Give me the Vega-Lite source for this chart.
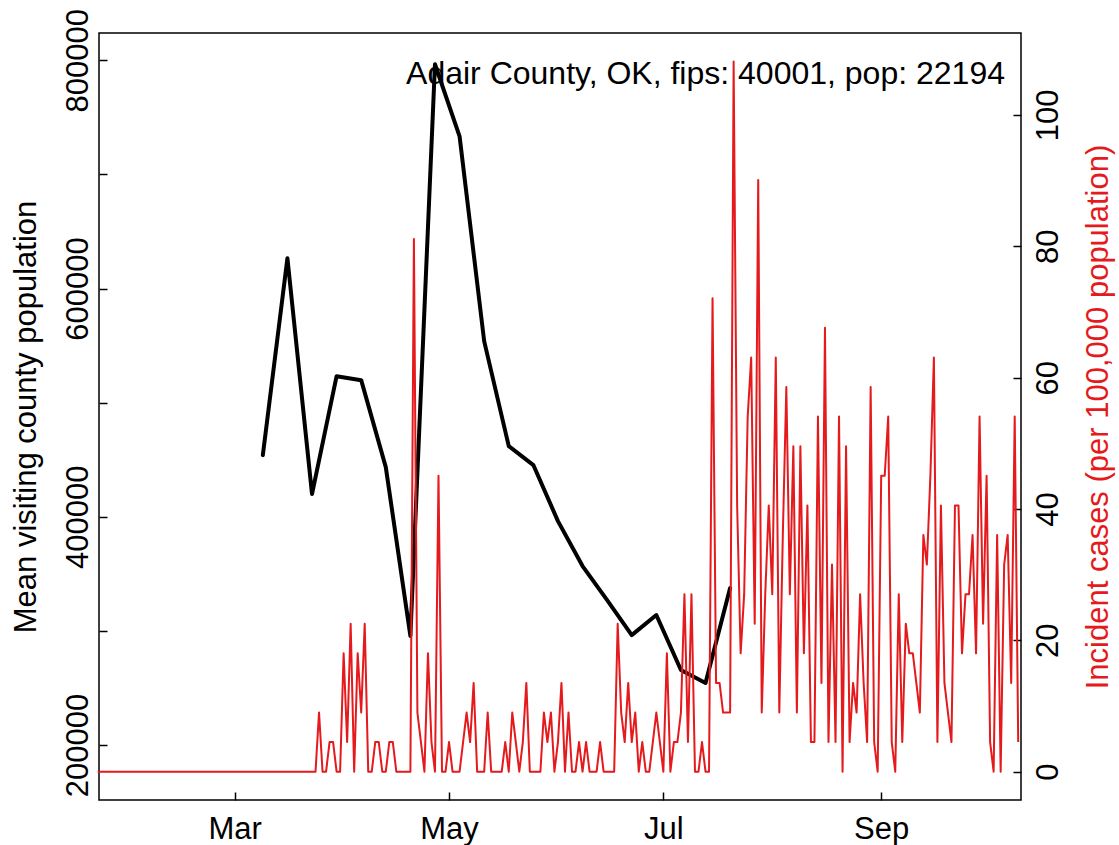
{
 "$schema": "https://vega.github.io/schema/vega-lite/v6.json",
 "width": 922, "height": 767,
 "autosize": {"type": "none"},
 "padding": {"left": 99, "top": 33, "right": 98, "bottom": 45},
 "background": "white",
 "config": {
  "view": {"stroke": "#000", "strokeWidth": 1.5},
  "font": "Liberation Sans",
  "axis": {"labelFont": "Liberation Sans", "titleFont": "Liberation Sans", "labelFontSize": 31, "titleFontSize": 31, "labelColor": "#000", "titleColor": "#000", "tickColor": "#000", "grid": false, "domain": false, "tickSize": -8, "tickWidth": 1.5, "titleFontWeight": "normal", "labelOverlap": false, "labelFlush": false}
 },
 "datasets": {
  "mobility": [
   {"date":"2020-03-09","visitors":454000},{"date":"2020-03-16","visitors":626600},{"date":"2020-03-23","visitors":419900},{"date":"2020-03-30","visitors":523200},{"date":"2020-04-06","visitors":519700},{"date":"2020-04-13","visitors":443500},{"date":"2020-04-20","visitors":295500},{"date":"2020-04-27","visitors":796500},{"date":"2020-05-04","visitors":733400},{"date":"2020-05-11","visitors":553900},{"date":"2020-05-18","visitors":461900},{"date":"2020-05-25","visitors":445300},{"date":"2020-06-01","visitors":396200},{"date":"2020-06-08","visitors":356800},{"date":"2020-06-15","visitors":327000},{"date":"2020-06-22","visitors":296300},{"date":"2020-06-29","visitors":313900},{"date":"2020-07-06","visitors":265700},{"date":"2020-07-13","visitors":254300},{"date":"2020-07-20","visitors":337500}
  ],
  "label": [
   {"date":"2020-10-06T05:30:00Z","visitors":778970,"label":"Adair County, OK, fips: 40001, pop: 22194"}
  ],
  "cases": [
   {"date":"2020-01-22","rate":0},{"date":"2020-01-23","rate":0},{"date":"2020-01-24","rate":0},{"date":"2020-01-25","rate":0},{"date":"2020-01-26","rate":0},{"date":"2020-01-27","rate":0},{"date":"2020-01-28","rate":0},{"date":"2020-01-29","rate":0},{"date":"2020-01-30","rate":0},{"date":"2020-01-31","rate":0},
   {"date":"2020-02-01","rate":0},{"date":"2020-02-02","rate":0},{"date":"2020-02-03","rate":0},{"date":"2020-02-04","rate":0},{"date":"2020-02-05","rate":0},{"date":"2020-02-06","rate":0},{"date":"2020-02-07","rate":0},{"date":"2020-02-08","rate":0},{"date":"2020-02-09","rate":0},{"date":"2020-02-10","rate":0},{"date":"2020-02-11","rate":0},{"date":"2020-02-12","rate":0},{"date":"2020-02-13","rate":0},{"date":"2020-02-14","rate":0},{"date":"2020-02-15","rate":0},{"date":"2020-02-16","rate":0},{"date":"2020-02-17","rate":0},{"date":"2020-02-18","rate":0},{"date":"2020-02-19","rate":0},{"date":"2020-02-20","rate":0},{"date":"2020-02-21","rate":0},{"date":"2020-02-22","rate":0},{"date":"2020-02-23","rate":0},{"date":"2020-02-24","rate":0},{"date":"2020-02-25","rate":0},{"date":"2020-02-26","rate":0},{"date":"2020-02-27","rate":0},{"date":"2020-02-28","rate":0},{"date":"2020-02-29","rate":0},
   {"date":"2020-03-01","rate":0},{"date":"2020-03-02","rate":0},{"date":"2020-03-03","rate":0},{"date":"2020-03-04","rate":0},{"date":"2020-03-05","rate":0},{"date":"2020-03-06","rate":0},{"date":"2020-03-07","rate":0},{"date":"2020-03-08","rate":0},{"date":"2020-03-09","rate":0},{"date":"2020-03-10","rate":0},{"date":"2020-03-11","rate":0},{"date":"2020-03-12","rate":0},{"date":"2020-03-13","rate":0},{"date":"2020-03-14","rate":0},{"date":"2020-03-15","rate":0},{"date":"2020-03-16","rate":0},{"date":"2020-03-17","rate":0},{"date":"2020-03-18","rate":0},{"date":"2020-03-19","rate":0},{"date":"2020-03-20","rate":0},{"date":"2020-03-21","rate":0},{"date":"2020-03-22","rate":0},{"date":"2020-03-23","rate":0},{"date":"2020-03-24","rate":0},{"date":"2020-03-25","rate":9.01},{"date":"2020-03-26","rate":0},{"date":"2020-03-27","rate":0},{"date":"2020-03-28","rate":4.51},{"date":"2020-03-29","rate":4.51},{"date":"2020-03-30","rate":0},{"date":"2020-03-31","rate":0},
   {"date":"2020-04-01","rate":18.02},{"date":"2020-04-02","rate":4.51},{"date":"2020-04-03","rate":22.53},{"date":"2020-04-04","rate":0},{"date":"2020-04-05","rate":18.02},{"date":"2020-04-06","rate":9.01},{"date":"2020-04-07","rate":22.53},{"date":"2020-04-08","rate":0},{"date":"2020-04-09","rate":0},{"date":"2020-04-10","rate":4.51},{"date":"2020-04-11","rate":4.51},{"date":"2020-04-12","rate":0},{"date":"2020-04-13","rate":0},{"date":"2020-04-14","rate":4.51},{"date":"2020-04-15","rate":4.51},{"date":"2020-04-16","rate":0},{"date":"2020-04-17","rate":0},{"date":"2020-04-18","rate":0},{"date":"2020-04-19","rate":0},{"date":"2020-04-20","rate":0},{"date":"2020-04-21","rate":81.1},{"date":"2020-04-22","rate":9.01},{"date":"2020-04-23","rate":4.51},{"date":"2020-04-24","rate":0},{"date":"2020-04-25","rate":18.02},{"date":"2020-04-26","rate":4.51},{"date":"2020-04-27","rate":0},{"date":"2020-04-28","rate":45.06},{"date":"2020-04-29","rate":0},{"date":"2020-04-30","rate":0},
   {"date":"2020-05-01","rate":4.51},{"date":"2020-05-02","rate":0},{"date":"2020-05-03","rate":0},{"date":"2020-05-04","rate":0},{"date":"2020-05-05","rate":4.51},{"date":"2020-05-06","rate":9.01},{"date":"2020-05-07","rate":4.51},{"date":"2020-05-08","rate":13.52},{"date":"2020-05-09","rate":0},{"date":"2020-05-10","rate":0},{"date":"2020-05-11","rate":0},{"date":"2020-05-12","rate":9.01},{"date":"2020-05-13","rate":0},{"date":"2020-05-14","rate":0},{"date":"2020-05-15","rate":0},{"date":"2020-05-16","rate":0},{"date":"2020-05-17","rate":4.51},{"date":"2020-05-18","rate":0},{"date":"2020-05-19","rate":9.01},{"date":"2020-05-20","rate":4.51},{"date":"2020-05-21","rate":0},{"date":"2020-05-22","rate":4.51},{"date":"2020-05-23","rate":13.52},{"date":"2020-05-24","rate":0},{"date":"2020-05-25","rate":0},{"date":"2020-05-26","rate":0},{"date":"2020-05-27","rate":0},{"date":"2020-05-28","rate":9.01},{"date":"2020-05-29","rate":4.51},{"date":"2020-05-30","rate":9.01},{"date":"2020-05-31","rate":0},
   {"date":"2020-06-01","rate":4.51},{"date":"2020-06-02","rate":13.52},{"date":"2020-06-03","rate":0},{"date":"2020-06-04","rate":9.01},{"date":"2020-06-05","rate":0},{"date":"2020-06-06","rate":0},{"date":"2020-06-07","rate":4.51},{"date":"2020-06-08","rate":0},{"date":"2020-06-09","rate":4.51},{"date":"2020-06-10","rate":0},{"date":"2020-06-11","rate":0},{"date":"2020-06-12","rate":0},{"date":"2020-06-13","rate":4.51},{"date":"2020-06-14","rate":0},{"date":"2020-06-15","rate":0},{"date":"2020-06-16","rate":0},{"date":"2020-06-17","rate":0},{"date":"2020-06-18","rate":22.53},{"date":"2020-06-19","rate":9.01},{"date":"2020-06-20","rate":4.51},{"date":"2020-06-21","rate":13.52},{"date":"2020-06-22","rate":4.51},{"date":"2020-06-23","rate":9.01},{"date":"2020-06-24","rate":0},{"date":"2020-06-25","rate":4.51},{"date":"2020-06-26","rate":0},{"date":"2020-06-27","rate":0},{"date":"2020-06-28","rate":4.51},{"date":"2020-06-29","rate":9.01},{"date":"2020-06-30","rate":4.51},
   {"date":"2020-07-01","rate":0},{"date":"2020-07-02","rate":18.02},{"date":"2020-07-03","rate":0},{"date":"2020-07-04","rate":4.51},{"date":"2020-07-05","rate":4.51},{"date":"2020-07-06","rate":9.01},{"date":"2020-07-07","rate":27.03},{"date":"2020-07-08","rate":4.51},{"date":"2020-07-09","rate":27.03},{"date":"2020-07-10","rate":0},{"date":"2020-07-11","rate":0},{"date":"2020-07-12","rate":4.51},{"date":"2020-07-13","rate":0},{"date":"2020-07-14","rate":0},{"date":"2020-07-15","rate":72.09},{"date":"2020-07-16","rate":13.52},{"date":"2020-07-17","rate":13.52},{"date":"2020-07-18","rate":9.01},{"date":"2020-07-19","rate":9.01},{"date":"2020-07-20","rate":9.01},{"date":"2020-07-21","rate":108.14},{"date":"2020-07-22","rate":40.55},{"date":"2020-07-23","rate":18.02},{"date":"2020-07-24","rate":27.03},{"date":"2020-07-25","rate":54.07},{"date":"2020-07-26","rate":63.08},{"date":"2020-07-27","rate":22.53},{"date":"2020-07-28","rate":90.11},{"date":"2020-07-29","rate":9.01},{"date":"2020-07-30","rate":27.03},{"date":"2020-07-31","rate":40.55},
   {"date":"2020-08-01","rate":27.03},{"date":"2020-08-02","rate":63.08},{"date":"2020-08-03","rate":9.01},{"date":"2020-08-04","rate":36.05},{"date":"2020-08-05","rate":58.57},{"date":"2020-08-06","rate":27.03},{"date":"2020-08-07","rate":49.56},{"date":"2020-08-08","rate":9.01},{"date":"2020-08-09","rate":49.56},{"date":"2020-08-10","rate":18.02},{"date":"2020-08-11","rate":40.55},{"date":"2020-08-12","rate":4.51},{"date":"2020-08-13","rate":4.51},{"date":"2020-08-14","rate":54.07},{"date":"2020-08-15","rate":13.52},{"date":"2020-08-16","rate":67.59},{"date":"2020-08-17","rate":4.51},{"date":"2020-08-18","rate":31.54},{"date":"2020-08-19","rate":4.51},{"date":"2020-08-20","rate":54.07},{"date":"2020-08-21","rate":0},{"date":"2020-08-22","rate":49.56},{"date":"2020-08-23","rate":4.51},{"date":"2020-08-24","rate":13.52},{"date":"2020-08-25","rate":9.01},{"date":"2020-08-26","rate":27.03},{"date":"2020-08-27","rate":13.52},{"date":"2020-08-28","rate":4.51},{"date":"2020-08-29","rate":58.57},{"date":"2020-08-30","rate":4.51},{"date":"2020-08-31","rate":0},
   {"date":"2020-09-01","rate":45.06},{"date":"2020-09-02","rate":45.06},{"date":"2020-09-03","rate":54.07},{"date":"2020-09-04","rate":4.51},{"date":"2020-09-05","rate":0},{"date":"2020-09-06","rate":27.03},{"date":"2020-09-07","rate":4.51},{"date":"2020-09-08","rate":22.53},{"date":"2020-09-09","rate":18.02},{"date":"2020-09-10","rate":18.02},{"date":"2020-09-11","rate":13.52},{"date":"2020-09-12","rate":9.01},{"date":"2020-09-13","rate":36.05},{"date":"2020-09-14","rate":31.54},{"date":"2020-09-15","rate":45.06},{"date":"2020-09-16","rate":63.08},{"date":"2020-09-17","rate":4.51},{"date":"2020-09-18","rate":40.55},{"date":"2020-09-19","rate":13.52},{"date":"2020-09-20","rate":9.01},{"date":"2020-09-21","rate":4.51},{"date":"2020-09-22","rate":40.55},{"date":"2020-09-23","rate":40.55},{"date":"2020-09-24","rate":18.02},{"date":"2020-09-25","rate":27.03},{"date":"2020-09-26","rate":27.03},{"date":"2020-09-27","rate":36.05},{"date":"2020-09-28","rate":18.02},{"date":"2020-09-29","rate":54.07},{"date":"2020-09-30","rate":22.53},
   {"date":"2020-10-01","rate":45.06},{"date":"2020-10-02","rate":4.51},{"date":"2020-10-03","rate":0},{"date":"2020-10-04","rate":36.05},{"date":"2020-10-05","rate":0},{"date":"2020-10-06","rate":31.54},{"date":"2020-10-07","rate":36.05},{"date":"2020-10-08","rate":13.52},{"date":"2020-10-09","rate":54.07},{"date":"2020-10-10","rate":4.51}
  ]
 },
 "layer": [
  {
   "layer": [
    {
     "data": {"name": "mobility"},
     "mark": {"type": "line", "color": "#000", "strokeWidth": 4, "strokeJoin": "round", "strokeCap": "round"},
     "encoding": {
      "x": {"field": "date", "type": "temporal",
            "scale": {"type": "utc", "domain": [{"year": 2020, "month": 1, "date": 22, "hours": 9, "utc": true}, {"year": 2020, "month": 10, "date": 10, "hours": 19, "utc": true}]},
            "axis": {"title": null, "format": "%b", "labelAngle": 0, "labelAlign": "center", "labelBaseline": "top", "labelPadding": 22.7,
                     "values": [{"year": 2020, "month": 3, "date": 1, "utc": true}, {"year": 2020, "month": 5, "date": 1, "utc": true}, {"year": 2020, "month": 7, "date": 1, "utc": true}, {"year": 2020, "month": 9, "date": 1, "utc": true}]}},
      "y": {"field": "visitors", "type": "quantitative",
            "scale": {"domain": [151800, 823900], "zero": false, "nice": false},
            "axis": {"title": "Mean visiting county population", "values": [200000, 300000, 400000, 500000, 600000, 700000, 800000],
                     "labelExpr": "datum.value % 200000 === 0 ? format(datum.value, 'd') : ''",
                     "labelAngle": -90, "labelAlign": "center", "labelBaseline": "alphabetic", "labelPadding": 19.6,
                     "titleAngle": -90, "titleAlign": "center", "titleBaseline": "top", "titleX": -87.6, "titleY": 383.5}}
     }
    },
    {
     "data": {"name": "label"},
     "mark": {"type": "text", "align": "right", "baseline": "alphabetic", "fontSize": 32, "font": "Liberation Sans", "color": "#000"},
     "encoding": {
      "x": {"field": "date", "type": "temporal", "scale": {"type": "utc", "domain": [{"year": 2020, "month": 1, "date": 22, "hours": 9, "utc": true}, {"year": 2020, "month": 10, "date": 10, "hours": 19, "utc": true}]}},
      "y": {"field": "visitors", "type": "quantitative"},
      "text": {"field": "label"}
     }
    }
   ]
  },
  {
   "data": {"name": "cases"},
   "mark": {"type": "line", "color": "#E41A1C", "strokeWidth": 2, "strokeJoin": "round"},
   "encoding": {
    "x": {"field": "date", "type": "temporal", "scale": {"type": "utc", "domain": [{"year": 2020, "month": 1, "date": 22, "hours": 9, "utc": true}, {"year": 2020, "month": 10, "date": 10, "hours": 19, "utc": true}]}},
    "y": {"field": "rate", "type": "quantitative",
          "scale": {"domain": [-4.31, 112.48], "zero": false, "nice": false},
          "axis": {"orient": "right", "title": "Incident cases (per 100,000 population)", "titleColor": "#E41A1C",
                   "values": [0, 20, 40, 60, 80, 100], "labelAngle": -90, "labelAlign": "center", "labelBaseline": "top", "labelPadding": 20,
                   "titleAngle": -90, "titleAlign": "center", "titleBaseline": "top", "titleX": 62, "titleY": 383.5}}
   }
  }
 ],
 "resolve": {"scale": {"y": "independent"}}
}
